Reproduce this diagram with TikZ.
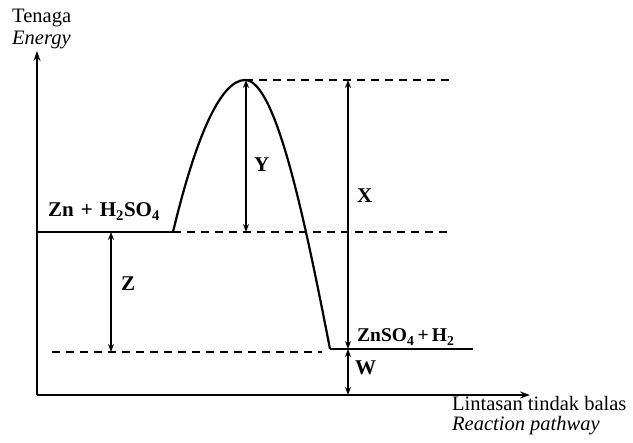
\documentclass[tikz,border=0pt]{standalone}
\usepackage{fontspec}
\setmainfont{Liberation Serif}
\usetikzlibrary{arrows.meta}
\begin{document}
\begin{tikzpicture}[x=1pt,y=-1pt,
  axis/.style={line width=1.8pt,-{Stealth[length=10pt,width=7pt]}},
  level/.style={line width=2pt},
  dashlevel/.style={line width=1.9pt,dash pattern=on 8pt off 6pt},
  curveline/.style={line width=2.2pt},
  gap/.style={line width=1.3pt,{Stealth[length=8pt,width=6pt]}-{Stealth[length=8pt,width=6pt]}},
  blabel/.style={inner sep=0pt,anchor=base west,font=\fontsize{21}{24}\selectfont\bfseries},
  plabel/.style={inner sep=0pt,anchor=base west,font=\fontsize{19.5}{22}\selectfont\bfseries},
  axlabel/.style={inner sep=0pt,anchor=base west,font=\fontsize{20.5}{24}\selectfont}]
\useasboundingbox (0,0) rectangle (633,443);
% coordinates
\coordinate (O) at (37,395);
\coordinate (Ytop) at (37,51);
\coordinate (Xend) at (530,395);
\coordinate (R1) at (37,232);
\coordinate (R2) at (173,232);
\coordinate (P) at (245,80);
\coordinate (Q1) at (330,349);
\coordinate (Q2) at (473,349);
\coordinate (T2) at (452,80);
\coordinate (M2) at (450,232);
\coordinate (L1) at (52,352);
\coordinate (L2) at (322,352);
\coordinate (Ya) at (246,80);
\coordinate (Yb) at (246,232);
\coordinate (Xa) at (348,80);
\coordinate (Xb) at (348,349);
\coordinate (Wb) at (348,395);
\coordinate (Za) at (111,232);
\coordinate (Zb) at (111,352);
% axes
\draw[axis] (O) -- (Ytop);
\draw[axis] (O) -- (Xend);
% levels
\draw[level] (R1) -- (R2);
\draw[curveline] (R2) .. controls (195,140) and (220,80) .. (P)
  .. controls (275,80) and (303,210) .. (Q1);
\draw[level] (Q1) -- (Q2);
\draw[dashlevel] (P) -- (T2);
\draw[dashlevel] (R2) -- (M2);
\draw[dashlevel] (L1) -- (L2);
% gap arrows
\draw[gap] (Ya) -- (Yb);
\draw[gap] (Xa) -- (Xb);
\draw[gap] (Xb) -- (Wb);
\draw[gap] (Za) -- (Zb);
% labels
\node[axlabel] (ten) at (12,23) {Tenaga};
\node[axlabel] (ene) at (12,45) {\itshape Energy};
\node[axlabel] (lin) at (452,411) {Lintasan tindak balas};
\node[axlabel] (rea) at (452,431) {\itshape Reaction pathway};
\node[blabel] (react) at (48,217) {Zn\,\,+\,\,H\textsubscript{2}SO\textsubscript{4}};
\node[plabel] (prod) at (357,342) {ZnSO\textsubscript{4}\,+\,H\textsubscript{2}};
\node[blabel] (lz) at (121,291) {Z};
\node[blabel] (ly) at (254,172) {Y};
\node[blabel] (lx) at (357,203) {X};
\node[blabel] (lw) at (355,375) {W};
\end{tikzpicture}
\end{document}
